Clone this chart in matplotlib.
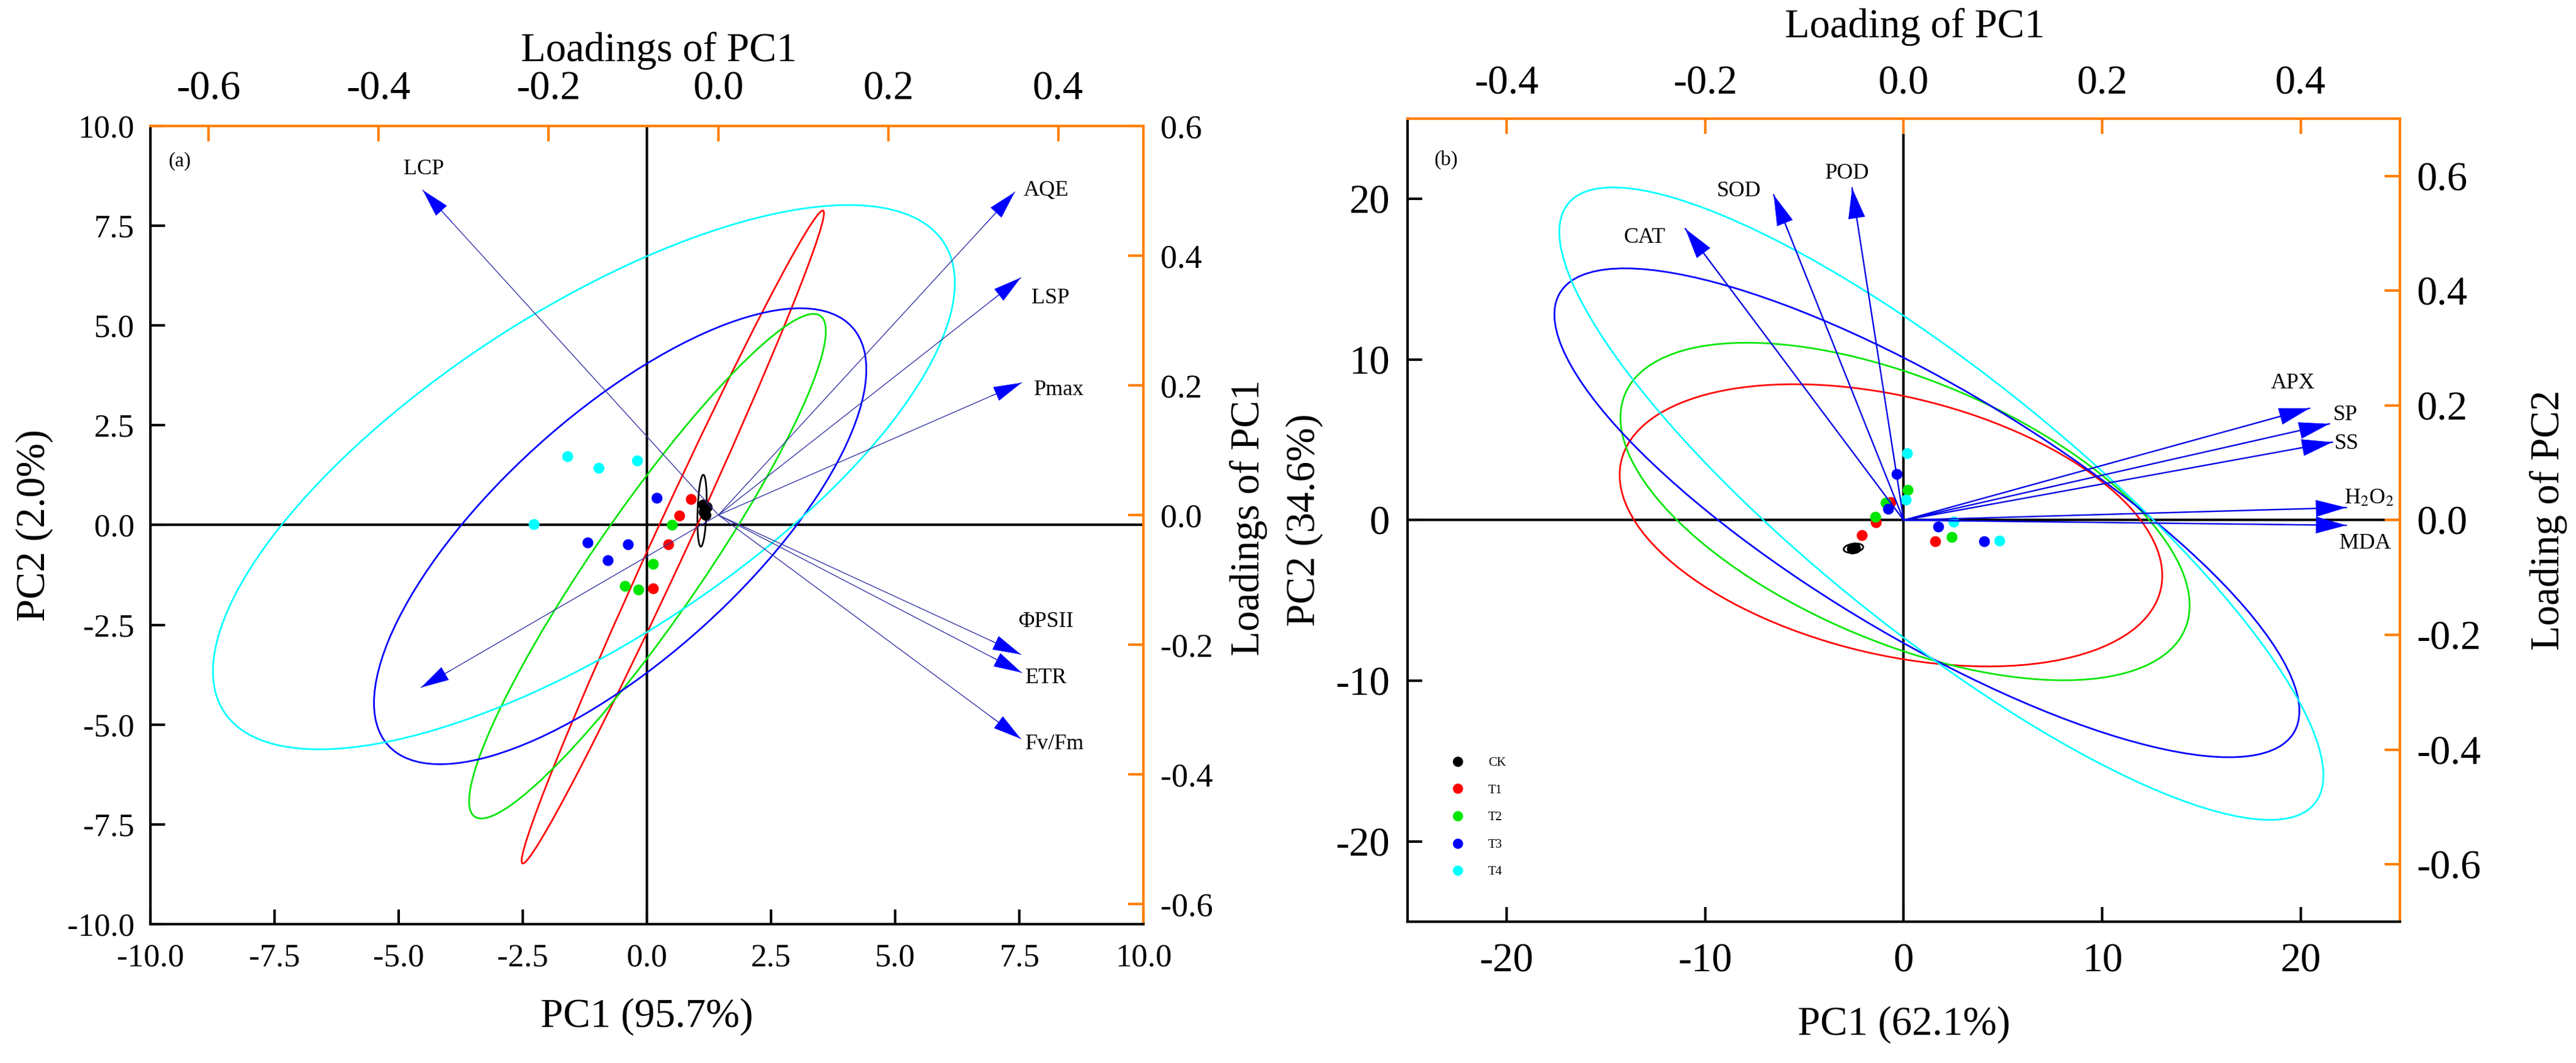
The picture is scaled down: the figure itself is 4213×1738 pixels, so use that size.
import matplotlib
matplotlib.use('Agg')
import matplotlib.pyplot as plt
from matplotlib.patches import Ellipse
from matplotlib.lines import Line2D

plt.rcParams['font.family'] = ['Liberation Serif', 'DejaVu Serif']
plt.rcParams['mathtext.fontset'] = 'stix'
plt.rcParams['axes.unicode_minus'] = False

groups = ['CK', 'T1', 'T2', 'T3', 'T4']
group_colors = ['#000000', '#ff0000', '#00e600', '#0000ff', '#00ffff']

# ---- panel (a): scores ----
a_score_x = [[1.13, 1.20, 1.15, 1.18],
             [0.88, 0.65, 0.43, 0.12],
             [0.50, 0.12, -0.45, -0.17],
             [0.20, -1.19, -0.38, -0.79],
             [-1.60, -0.98, -0.20, -2.28]]
a_score_y = [[0.52, 0.45, 0.33, 0.26],
             [0.65, 0.23, -0.48, -1.58],
             [0.01, -0.98, -1.53, -1.61],
             [0.68, -0.44, -0.48, -0.88],
             [1.73, 1.43, 1.61, 0.02]]
# confidence ellipses (center x, center y, width, height, angle)
a_ell_cx = [1.11, 0.52, 0.01, -0.54, -1.27]
a_ell_cy = [0.36, -0.30, -1.03, -0.28, 1.20]
a_ell_w = [1.8, 17.44, 14.36, 14.1, 18.74]
a_ell_h = [0.18, 0.72, 2.30, 5.48, 7.62]
a_ell_ang = [88.4, 69.7, 61.3, 50.5, 41.35]
# loadings
a_vars = ['LCP', 'AQE', 'LSP', 'Pmax', 'ΦPSII', 'ETR', 'Fv/Fm', '']
a_load_x = [-0.348, 0.349, 0.356, 0.357, 0.356, 0.357, 0.356, -0.350]
a_load_y = [0.501, 0.498, 0.366, 0.204, -0.215, -0.243, -0.345, -0.266]
a_lab_x = [-0.347, 0.386, 0.391, 0.401, 0.386, 0.386, 0.396, 0]
a_lab_y = [0.533, 0.501, 0.334, 0.193, -0.165, -0.251, -0.353, 0]

# ---- panel (b): scores ----
b_score_x = [[-2.60, -2.50, -2.45],
             [-0.66, -1.39, -2.10, 1.60],
             [0.20, -0.92, -1.42, 2.41],
             [-0.36, -0.79, 1.75, 4.06],
             [0.17, 0.10, 2.52, 4.82]]
b_score_y = [[-1.78, -1.72, -1.74],
             [1.12, -0.13, -0.95, -1.31],
             [1.88, 1.08, 0.22, -1.04],
             [2.86, 0.72, -0.41, -1.33],
             [4.18, 1.29, -0.10, -1.27]]
b_ell_cx = [-2.53, -0.64, 0.07, 1.17, 1.90]
b_ell_cy = [-1.74, -0.32, 0.54, 0.46, 1.03]
b_ell_w = [1.0, 28.4, 31.9, 46.1, 53.1]
b_ell_h = [0.55, 15.8, 15.7, 14.5, 14.6]
b_ell_ang = [12, -19, -30.2, -37.7, -45.75]
b_vars = ['CAT', 'SOD', 'POD', 'APX', 'SP', 'SS', 'H$_2$O$_2$', 'MDA']
b_load_x = [-0.220, -0.131, -0.052, 0.409, 0.429, 0.432, 0.446, 0.446]
b_load_y = [0.508, 0.567, 0.579, 0.195, 0.168, 0.136, 0.022, -0.009]
b_lab_x = [-0.261, -0.166, -0.057, 0.392, 0.445, 0.446, 0.469, 0.465]
b_lab_y = [0.493, 0.574, 0.604, 0.239, 0.183, 0.133, 0.038, -0.041]

ORANGE = '#ff8000'

fig = plt.figure(figsize=(42.13, 17.38), dpi=100)
fig.set_facecolor('white')


def make_axes(rect, tick_fs, top_fs, right_fs, pads):
    ax = fig.add_axes(rect)
    ax2 = fig.add_axes(rect, frameon=False)
    for s in ax.spines.values():
        s.set_linewidth(3)
    ax.spines['top'].set_color(ORANGE)
    ax.spines['right'].set_color(ORANGE)
    ax.tick_params(direction='in', top=False, right=False, length=17, width=3,
                   labelsize=tick_fs)
    ax.tick_params(axis='x', pad=pads[0])
    ax.tick_params(axis='y', pad=pads[1])
    ax2.xaxis.tick_top()
    ax2.yaxis.tick_right()
    ax2.xaxis.set_label_position('top')
    ax2.yaxis.set_label_position('right')
    ax2.tick_params(direction='in', color=ORANGE, labelcolor='black', length=18, width=3)
    ax2.tick_params(axis='x', labelsize=top_fs, pad=pads[2])
    ax2.tick_params(axis='y', labelsize=right_fs, pad=pads[3])
    ax.axhline(0, color='black', lw=3, zorder=1)
    return ax, ax2


def draw_panel(ax, ax2, sx, sy, ecx, ecy, ew, eh, eang, lx, ly, names, tx, ty,
               body_color, body_lw, hl, hw):
    for i, g in enumerate(groups):
        ax.add_patch(Ellipse((ecx[i], ecy[i]), ew[i], eh[i], angle=eang[i],
                             fill=False, ec=group_colors[i], lw=2, zorder=2))
    for i, g in enumerate(groups):
        ax.scatter(sx[i], sy[i], s=165, color=group_colors[i], zorder=3, label=g,
                   linewidths=0)
    for x, y, name, px, py in zip(lx, ly, names, tx, ty):
        ax2.plot([0, x], [0, y], color=body_color, lw=body_lw, zorder=2)
        ax2.annotate('', xy=(x, y), xytext=(0.9 * x, 0.9 * y),
                     arrowprops=dict(arrowstyle='-|>,head_length=%s,head_width=%s' % (hl, hw),
                                     color='#0000ff', lw=0.5,
                                     mutation_scale=30, shrinkA=0, shrinkB=0))
        if name:
            ax2.text(px, py, name, fontsize=26, ha='center', va='center')


# ---------- (a) ----------
axa, axa2 = make_axes([0.0584, 0.1306, 0.3855, 0.7509], 38, 48, 39, (23, 19, 21, 20))
axa.axvline(0, color='black', lw=3, zorder=1)
axa.set_xlim(-10, 10)
axa.set_ylim(-10, 10)
ticks_a = [-10, -7.5, -5, -2.5, 0, 2.5, 5, 7.5, 10]
axa.set_xticks(ticks_a)
axa.set_xticklabels(['%.1f' % t for t in ticks_a])
axa.set_yticks(ticks_a)
axa.set_yticklabels(['%.1f' % t for t in ticks_a])
axa2.set_xlim(-0.6686, 0.5005)
axa2.set_ylim(-0.631, 0.6)
tx_a = [-0.6, -0.4, -0.2, 0.0, 0.2, 0.4]
ty_a = [-0.6, -0.4, -0.2, 0.0, 0.2, 0.4, 0.6]
axa2.set_xticks(tx_a)
axa2.set_xticklabels(['%.1f' % t for t in tx_a])
axa2.set_yticks(ty_a)
axa2.set_yticklabels(['%.1f' % t for t in ty_a])
draw_panel(axa, axa2, a_score_x, a_score_y, a_ell_cx, a_ell_cy, a_ell_w, a_ell_h, a_ell_ang,
           a_load_x, a_load_y, a_vars, a_lab_x, a_lab_y, '#3434a4', 1.0, 1.05, 0.28)
axa.set_xlabel('PC1 (95.7%)', fontsize=48, va='center')
axa.xaxis.set_label_coords(0.5, -0.1157)
axa.set_ylabel('PC2 (2.0%)', fontsize=48, va='center', ha='center')
axa.yaxis.set_label_coords(-0.1166, 0.5)
axa2.set_xlabel('Loadings of PC1', fontsize=48, va='center')
axa2.xaxis.set_label_coords(0.512, 1.094)
axa2.set_ylabel('Loadings of PC1', fontsize=48, va='center', ha='center')
axa2.yaxis.set_label_coords(1.106, 0.509)
axa.text(0.0296, 0.956, '(a)', transform=axa.transAxes, fontsize=24, ha='center', va='center')

# ---------- (b) ----------
axb, axb2 = make_axes([0.5464, 0.1329, 0.3852, 0.7555], 48, 48, 48, (25, 21, 19, 20))
axb.axvline(0, ymin=0, ymax=0.98, color='black', lw=3, zorder=1)
axb.set_xlim(-25, 25)
axb.set_ylim(-25, 25)
axb.set_xticks([-20, -10, 0, 10, 20])
axb.set_yticks([-20, -10, 0, 10, 20])
axb2.set_xlim(-0.5, 0.5)
axb2.set_ylim(-0.7, 0.7)
tx_b = [-0.4, -0.2, 0.0, 0.2, 0.4]
axb2.set_xticks(tx_b)
axb2.set_xticklabels(['%.1f' % t for t in tx_b])
ty_b = [-0.6, -0.4, -0.2, 0.0, 0.2, 0.4, 0.6]
axb2.set_yticks(ty_b)
axb2.set_yticklabels(['%.1f' % t for t in ty_b])
draw_panel(axb, axb2, b_score_x, b_score_y, b_ell_cx, b_ell_cy, b_ell_w, b_ell_h, b_ell_ang,
           b_load_x, b_load_y, b_vars, b_lab_x, b_lab_y, '#0000e6', 1.7, 1.15, 0.32)
axb.set_xlabel('PC1 (62.1%)', fontsize=48, va='center')
axb.xaxis.set_label_coords(0.5, -0.128)
axb.set_ylabel('PC2 (34.6%)', fontsize=48, va='center', ha='center')
axb.yaxis.set_label_coords(-0.1037, 0.5)
axb2.set_xlabel('Loading of PC1', fontsize=48, va='center')
axb2.xaxis.set_label_coords(0.511, 1.114)
axb2.set_ylabel('Loading of PC2', fontsize=48, va='center', ha='center')
axb2.yaxis.set_label_coords(1.150, 0.5)
axb.text(0.039, 0.9486, '(b)', transform=axb.transAxes, fontsize=24, ha='center', va='center')

handles = [Line2D([], [], marker='o', ls='', color=c, markersize=11) for c in group_colors]
axb.legend(handles, groups, loc='upper left', bbox_to_anchor=(0.0439, 0.2052),
           frameon=False, fontsize=15, labelspacing=1.2, handlelength=1.0,
           handletextpad=1.9, borderaxespad=0, borderpad=0)

fig.savefig('out.png', dpi=100)
